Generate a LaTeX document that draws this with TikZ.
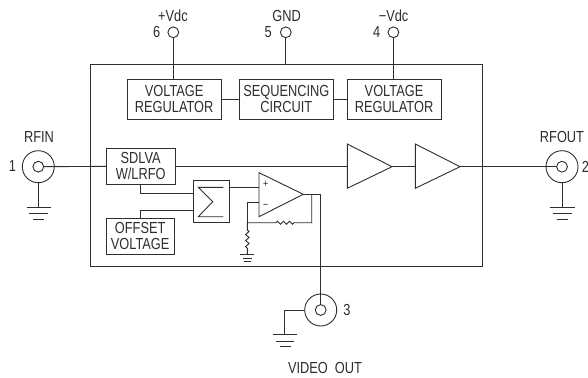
\documentclass[tikz,border=0pt]{standalone}
\usepackage{fontspec}
\setmainfont[FakeStretch=0.8]{Liberation Sans}
\definecolor{ink}{HTML}{2E2E2E}
\tikzset{
  wire/.style={draw=ink,line width=0.9pt},
  block/.style={draw=ink,line width=1pt,rectangle,inner sep=0pt,outer sep=0pt,align=center,text=ink,font=\fontsize{16}{16}\selectfont},
  pin/.style={draw=ink,line width=0.9pt,circle,inner sep=0pt,outer sep=0pt,minimum size=10.8pt},
  coaxout/.style={draw=ink,line width=0.9pt,circle,inner sep=0pt,outer sep=0pt,minimum size=32pt},
  lbl/.style={inner sep=0pt,text=ink,font=\fontsize{16}{16}\selectfont},
  sign/.style={inner sep=0pt,text=ink,font=\fontsize{11}{11}\selectfont},
}
\begin{document}
\begin{tikzpicture}[x=1pt,y=-1pt]
\useasboundingbox (0,0) rectangle (588,377);
\fill[white] (0,0) rectangle (588,377);
% main housing
\node[block,minimum width=392pt,minimum height=201.6pt] (housing) at (286,165.8) {};
% pins
\node[pin] (p6) at (173.3,32.3) {};
\node[pin] (p5) at (285.8,32.3) {};
\node[pin] (p4) at (393.4,32.3) {};
\node[lbl] (t6) at (173,16) {+Vdc};
\node[lbl] (t5) at (286.7,16) {GND};
\node[lbl] (t4) at (393.6,16) {\textminus Vdc};
\node[lbl] (n6) at (156.7,32) {6};
\node[lbl] (n5) at (268.3,32) {5};
\node[lbl] (n4) at (376.7,32) {4};
% top blocks
\node[block,minimum width=93.7pt,minimum height=40pt] (reg1) at (174.2,99.3) {VOLTAGE\\REGULATOR};
\node[block,minimum width=94pt,minimum height=40pt] (seq) at (286.3,99.3) {SEQUENCING\\CIRCUIT};
\node[block,minimum width=94pt,minimum height=40pt] (reg2) at (394,99.3) {VOLTAGE\\REGULATOR};
\draw[wire] (p6) -- (p6 |- reg1.north);
\draw[wire] (p5) -- (p5 |- housing.north);
\draw[wire] (p4) -- (p4 |- reg2.north);
\draw[wire] (reg1) -- (seq);
\draw[wire] (seq) -- (reg2);
% left blocks
\node[block,minimum width=68.7pt,minimum height=35.7pt] (sdlva) at (140.7,166.2) {SDLVA\\W/LRFO};
\node[block,minimum width=68.3pt,minimum height=36pt] (offset) at (140.2,236.3) {OFFSET\\VOLTAGE};
\node[block,minimum width=36pt,minimum height=41.6pt] (sum) at (211,201.5) {};
\draw[wire] (223.3,187.3) -- (198.3,187.3) -- (212.7,201.7) -- (198.3,216.7) -- (223.3,216.7);
\draw[wire] (140.7,184) -- (140.7,193.3) -- (sum.west |- 0,193.3);
\draw[wire] (offset.north -| 140,0) -- (140,210) -- (sum.west |- 0,210);
% RFIN
\node[coaxout] (rfin) at (38.3,166.7) {};
\node[pin] (rfinc) at (38.3,166.7) {};
\node[lbl] (trfin) at (39,137.3) {RFIN};
\node[lbl] (n1) at (12.5,166) {1};
\draw[wire] (rfinc) -- (sdlva);
\coordinate (g1) at (38.3,207.3);
\draw[wire] (rfin) -- (g1);
\draw[wire] (26.7,207.3) -- (50.7,207.3) (29,213.3) -- (48,213.3) (33,219) -- (44,219);
% amplifiers
\coordinate (a1t) at (347.3,144); \coordinate (a1b) at (347.3,188.3); \coordinate (a1o) at (392,166.7);
\coordinate (a2t) at (415.3,144); \coordinate (a2b) at (415.3,188.3); \coordinate (a2o) at (460,166.7);
\draw[wire,line join=miter] (a1t) -- (a1o) -- (a1b) -- cycle;
\draw[wire,line join=miter] (a2t) -- (a2o) -- (a2b) -- cycle;
\draw[wire] (sdlva.east |- a1o) -- (a1o -| a1t);
\draw[wire] (a1o) -- (a2o -| a2t);
% RFOUT
\node[coaxout] (rfout) at (562,166.7) {};
\node[pin] (rfoutc) at (562,166.7) {};
\node[lbl] (trfout) at (562,137.3) {RFOUT};
\node[lbl] (n2) at (585.5,167) {2};
\draw[wire] (a2o) -- (rfoutc);
\coordinate (g2) at (562,207.3);
\draw[wire] (rfout) -- (g2);
\draw[wire] (550,207.3) -- (574.7,207.3) (553.3,213.3) -- (571.7,213.3) (556.7,219) -- (567.7,219);
% op amp
\coordinate (ot) at (259,172.7); \coordinate (ob) at (259,216.7); \coordinate (oo) at (303.3,194.3);
\draw[wire,line join=miter] (ot) -- (oo) -- (ob) -- cycle;
\node[sign] (plus) at (265.7,184) {+};
\node[sign] (minus) at (265.7,206) {\textminus};
\draw[wire] (sum.east |- 0,187.7) -- (259,187.7);
\coordinate (fbj) at (247.3,222.7);
\draw[wire] (259,202.3) -- (247.3,202.3) -- (fbj);
% feedback with resistor
\draw[wire] (fbj) -- (276,222.7) -- (277.5,221.2) -- (280.5,224.2) -- (283.5,221.2) -- (286.5,224.2) -- (289.5,221.2) -- (292.5,224.2) -- (294,222.7) -- (311.7,222.7) -- (311.7,194.3);
% ground resistor
\draw[wire] (fbj) -- (247.3,230) -- (249,231.5) -- (245.6,234.5) -- (249,237.5) -- (245.6,240.5) -- (249,243.5) -- (245.6,246.5) -- (247.3,248.3) -- (247.3,254.3);
\draw[wire] (240,254.3) -- (254,254.3) (243,258.3) -- (251.6,258.3) (244,261.7) -- (250.6,261.7);
% video out
\node[coaxout] (vid) at (320.7,310) {};
\node[pin] (vidc) at (320.7,310) {};
\draw[wire] (oo) -- (320.7,194.3) -- (vidc);
\coordinate (g3) at (284.7,334.3);
\draw[wire] (vid) -- (284.7,310) -- (g3);
\draw[wire] (272.7,334.3) -- (297.3,334.3) (276,341) -- (294,341) (279.5,346.7) -- (290.5,346.7);
\node[lbl] (n3) at (347,310) {3};
\node[lbl] (tvid) at (325,368.3) {VIDEO\hspace{7pt}OUT};
\end{tikzpicture}
\end{document}
